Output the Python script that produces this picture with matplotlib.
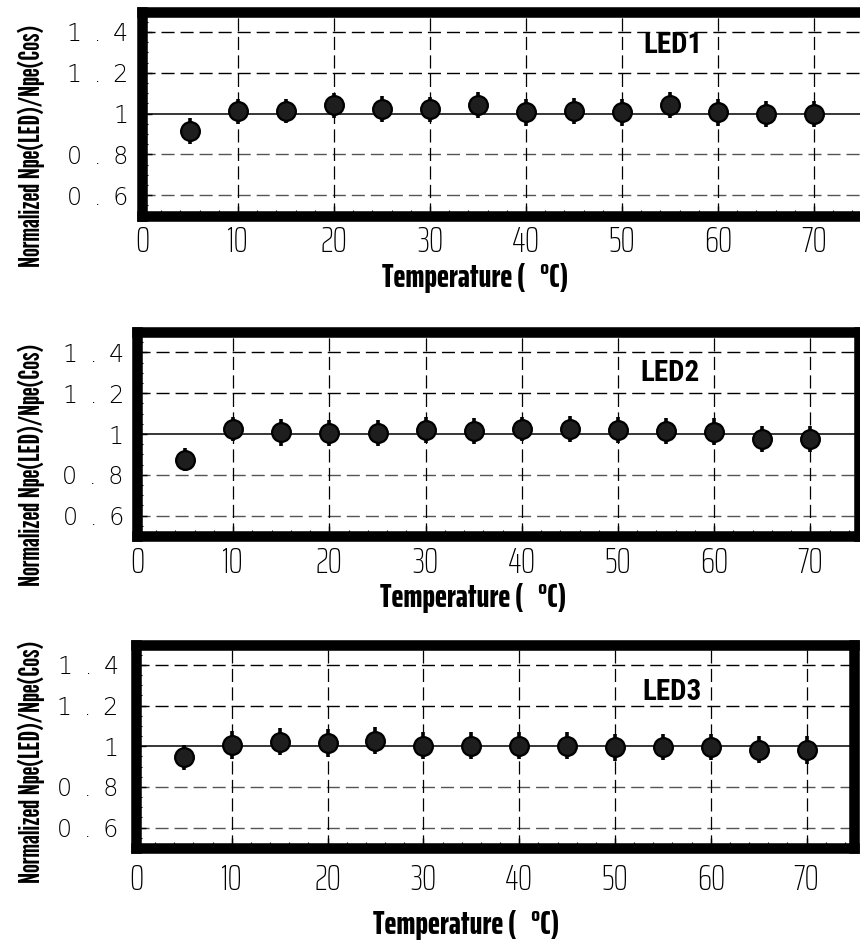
import matplotlib
matplotlib.use("Agg")
import matplotlib.pyplot as plt
from matplotlib.ticker import MultipleLocator, FixedLocator, FixedFormatter
from matplotlib.font_manager import FontProperties, fontManager
from matplotlib.textpath import TextPath

# ---------------- data ----------------
temperature = [5, 10, 15, 20, 25, 30, 35, 40, 45, 50, 55, 60, 65, 70]

led1_ratio = [0.915, 1.011, 1.011, 1.041, 1.021, 1.021, 1.042, 1.005, 1.011, 1.005, 1.041, 1.005, 0.997, 0.997]
led1_err = [0.065, 0.062, 0.060, 0.061, 0.063, 0.062, 0.065, 0.065, 0.064, 0.065, 0.065, 0.065, 0.065, 0.064]

led2_ratio = [0.875, 1.025, 1.008, 1.005, 1.005, 1.021, 1.013, 1.025, 1.025, 1.021, 1.016, 1.011, 0.975, 0.975]
led2_err = [0.057, 0.057, 0.066, 0.065, 0.066, 0.064, 0.063, 0.057, 0.063, 0.064, 0.064, 0.066, 0.064, 0.064]

led3_ratio = [0.945, 1.007, 1.023, 1.017, 1.028, 1.003, 1.003, 1.003, 1.003, 0.995, 0.995, 0.998, 0.983, 0.983]
led3_err = [0.063, 0.068, 0.066, 0.068, 0.066, 0.066, 0.068, 0.066, 0.066, 0.066, 0.064, 0.064, 0.066, 0.068]

panel_names = ["LED1", "LED2", "LED3"]
x_ticks = [0, 10, 20, 30, 40, 50, 60, 70]
x_tick_labels = ["0", "10", "20", "30", "40", "50", "60", "70"]
y_ticks = [0.6, 0.8, 1.0, 1.2, 1.4]
y_tick_labels = ["0\u2002.\u20026", "0\u2002.\u20028", "1", "1\u2002.\u20022", "1\u2002.\u20024"]
y_label = "Normalized Npe(LED)/Npe(Cos)"
x_label = "Temperature (   \u00b0C)"

# ---------------- fonts ----------------
available = {f.name for f in fontManager.ttflist}


def pick_condensed(cands, text, target):
    best, best_score = None, None
    for c in cands:
        if c not in available:
            continue
        fp = FontProperties(family=c, weight="bold", size=20)
        cap = TextPath((0, 0), "N", prop=fp).get_extents().height
        length = TextPath((0, 0), text, prop=fp).get_extents().width
        score = abs(cap / length - target)
        if best_score is None or score < best_score:
            best, best_score = c, score
    return best or "DejaVu Sans"


ylabel_family = pick_condensed(["League Gothic", "Antonio", "Anton", "Oswald", "Fjalla One",
                                "Saira ExtraCondensed"], y_label, 0.112)
ylabel_font = [ylabel_family, "DejaVu Sans"]
xlabel_font = ["Saira ExtraCondensed", "DejaVu Sans"]
xtick_font = ["Saira ExtraCondensed", "DejaVu Sans"]
ytick_font = ["DejaVu Sans"]

# ---------------- layout (pixels) ----------------
W, H = 860, 952
panels = [
    dict(l=142, r=862, t=11.5, b=215.5, xpad=7.0, ypad=10.0,
         xl=(475, 263), yl=(31, 146), led=(55.3, 1.335)),
    dict(l=137, r=858.5, t=332, b=536, xpad=7.3, ypad=9.5,
         xl=(473.5, 583), yl=(31, 465), led=(55.4, 1.297)),
    dict(l=136, r=854.5, t=644.5, b=848, xpad=11.0, ypad=12.5,
         xl=(466.5, 910), yl=(31, 762), led=(55.9, 1.265)),
]
series = [(led1_ratio, led1_err), (led2_ratio, led2_err), (led3_ratio, led3_err)]

fig = plt.figure(figsize=(W / 100, H / 100), dpi=100)

xlabels = []
ylabels = []
for p, (vals, errs), name in zip(panels, series, panel_names):
    ax = fig.add_axes([p["l"] / W, 1 - p["b"] / H, (p["r"] - p["l"]) / W, (p["b"] - p["t"]) / H])
    ax.set_xlim(0, 75)
    ax.set_ylim(0.5, 1.5)

    # grid lines
    for yv in y_ticks:
        if abs(yv - 1.0) < 1e-9:
            ax.axhline(yv, color="black", lw=1.1, zorder=1)
        else:
            col = "#555555" if yv < 1 else "black"
            ax.axhline(yv, color=col, lw=1.0, ls=(0, (9.4, 4.3)), zorder=1)
    for xv in x_ticks[1:]:
        ax.axvline(xv, color="black", lw=0.9, ls=(0, (10.5, 4.3)), zorder=1)

    ax.errorbar(temperature, vals, yerr=errs, fmt="o", ms=13.5,
                mfc="#1e1e1e", mec="black", mew=1.6,
                ecolor="black", elinewidth=2.6, capsize=0, zorder=3)

    ax.text(p["led"][0], p["led"][1], name, ha="center", va="center",
            fontsize=21, fontweight="bold", family=["Roboto Condensed", "DejaVu Sans"], zorder=4)

    ax.xaxis.set_major_locator(FixedLocator(x_ticks))
    ax.xaxis.set_major_formatter(FixedFormatter(x_tick_labels))
    ax.xaxis.set_minor_locator(MultipleLocator(2))
    ax.yaxis.set_major_locator(FixedLocator(y_ticks))
    ax.yaxis.set_major_formatter(FixedFormatter(y_tick_labels))
    ax.yaxis.set_minor_locator(MultipleLocator(0.05))

    ax.tick_params(which="both", direction="in", top=False, right=False, color="black")
    ax.tick_params(which="major", length=7, width=1.0)
    ax.tick_params(which="minor", length=4, width=0.8)
    ax.tick_params(axis="x", which="major", pad=p["xpad"])
    ax.tick_params(axis="y", which="major", pad=p["ypad"])
    for t in ax.get_xticklabels():
        t.set_fontfamily(xtick_font)
        t.set_fontweight(200)
        t.set_fontsize(26)
    for t in ax.get_yticklabels():
        t.set_fontfamily(ytick_font)
        t.set_fontweight(200)
        t.set_fontsize(17)

    for s in ax.spines.values():
        s.set_linewidth(7.6)
        s.set_color("black")

    xl = ax.set_xlabel(x_label, fontsize=22, fontweight=800, family=xlabel_font,
                       ha="center", va="top")
    ax.xaxis.set_label_coords((p["xl"][0] - p["l"]) / (p["r"] - p["l"]),
                              -(p["xl"][1] - p["b"]) / (p["b"] - p["t"]))
    yl = ax.set_ylabel(y_label, fontsize=22, fontweight="bold", family=ylabel_font,
                       ha="center", va="center")
    ax.yaxis.set_label_coords((p["yl"][0] - p["l"]) / (p["r"] - p["l"]),
                              1 - (p["yl"][1] - p["t"]) / (p["b"] - p["t"]))
    xlabels.append(xl)
    ylabels.append(yl)

# fit label sizes to the measured lengths in the reference
fig.canvas.draw()
r = fig.canvas.get_renderer()
for xl in xlabels:
    w = xl.get_window_extent(r).width
    xl.set_fontsize(xl.get_fontsize() * 186.0 / w)
for yl in ylabels:
    h = yl.get_window_extent(r).height
    yl.set_fontsize(yl.get_fontsize() * 242.0 / h)

fig.savefig("out.png", dpi=100)
